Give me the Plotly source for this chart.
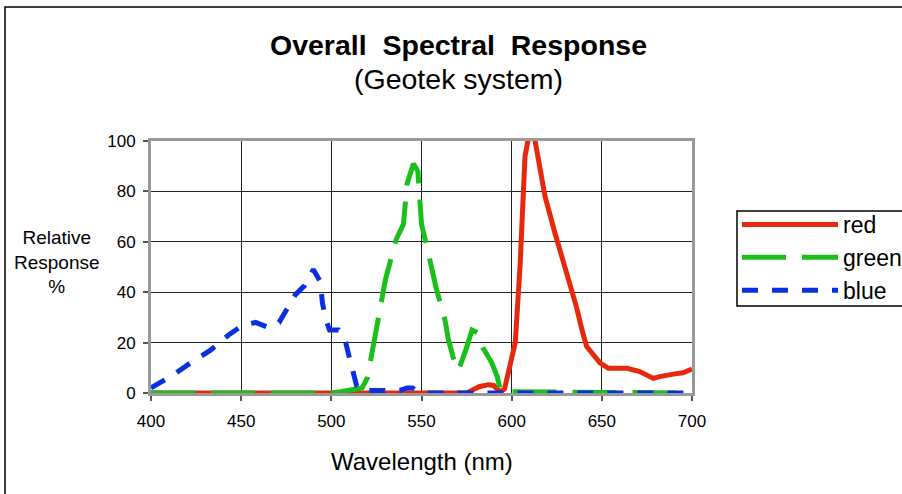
import plotly.graph_objects as go

# ---- data ----
red_x = [400, 575, 582, 587, 590, 593.5, 596, 599, 602, 604.7, 606.5, 607.4, 609, 611, 613, 615,
         618.5, 624, 629.6, 636, 639, 641.6, 649, 653.6, 664, 671, 678.6, 682, 689.7, 695, 700]
red_y = [0, 0, 2.5, 3.3, 3, 0.5, 1.5, 11, 20, 51, 82, 94, 100, 103, 100, 91,
         78, 63.5, 50, 34, 25, 18.4, 12, 9.8, 9.8, 8.5, 5.8, 6.5, 7.5, 8, 9.5]

green_x = [400, 500, 505, 512, 517, 520, 523, 525, 530, 536, 540, 542, 545.5, 548, 549, 550,
           553, 558, 563, 565, 568, 570.5, 575, 578, 581, 584, 589, 592, 594, 700]
green_y = [0, 0, 0.5, 1.5, 2, 6, 18, 25, 45, 61, 67, 83, 91, 88, 75, 67,
           58, 42, 29, 21, 13, 9, 18, 25, 24, 18, 12, 6.5, 0.5, 0]

blue_x = [400, 412, 422, 433, 443, 451, 458, 465, 471, 474, 480, 485, 490, 494, 495, 497,
          499, 504, 508, 510, 512, 514, 516, 520, 530, 538, 542, 545, 548, 550, 700]
blue_y = [2, 7, 12, 17, 23, 27, 28, 26, 28, 32, 39, 42.5, 49, 44, 36, 29,
          25, 25, 20, 14, 9, 3, 1, 1, 1, 1, 2, 2, 0.5, 0, 0]

series_names = ["red", "green", "blue"]
x_ticks = [400, 450, 500, 550, 600, 650, 700]
y_ticks = [0, 20, 40, 60, 80, 100]

# ---- layout geometry (pixels) ----
W, H = 902, 494
L, R, T, B = 151, 692, 141, 393
pw, ph = R - L, B - T

def px(xp):
    return (xp - L) / pw

def py(yp):
    return (B - yp) / ph

FONT = "Liberation Sans, Arial, sans-serif"
NB = "\u00a0"

fig = go.Figure()
fig.add_trace(go.Scatter(x=red_x, y=red_y, mode="lines", name=series_names[0],
                         line=dict(color="#e8280c", width=5), legendgroup="r"))
fig.add_trace(go.Scatter(x=green_x, y=green_y, mode="lines", name=series_names[1] + NB * 4,
                         line=dict(color="#19c019", width=5, dash="44px,16px"), legendgroup="g"))
fig.add_trace(go.Scatter(x=blue_x, y=blue_y, mode="lines", name=series_names[2],
                         line=dict(color="#0a2fe0", width=5, dash="16px,14px"), legendgroup="b"))

fig.update_layout(
    width=W, height=H,
    margin=dict(l=L, r=W - R, t=T, b=H - B, autoexpand=False),
    paper_bgcolor="white", plot_bgcolor="white",
    font=dict(family=FONT, color="black", size=17),
    showlegend=True,
    legend=dict(x=px(737), y=py(203), xanchor="left", yanchor="top",
                borderwidth=0, bgcolor="rgba(0,0,0,0)",
                font=dict(size=23, family=FONT), itemwidth=96,
                tracegroupgap=0, traceorder="normal"),
    xaxis=dict(range=[400, 700], tickvals=x_ticks, showgrid=True, gridcolor="#222", gridwidth=1.3,
               showline=True, linecolor="#999", linewidth=3, mirror=True,
               ticks="outside", ticklen=5, tickcolor="#555", tickwidth=1.5,
               zeroline=False, tickfont=dict(size=17), ticklabelstandoff=6),
    yaxis=dict(range=[0, 100], tickvals=y_ticks, showgrid=True, gridcolor="#222", gridwidth=1.3,
               showline=True, linecolor="#999", linewidth=3, mirror=True,
               ticks="outside", ticklen=5, tickcolor="#555", tickwidth=1.5,
               zeroline=False, tickfont=dict(size=17), ticklabelstandoff=4),
    annotations=[
        dict(text="<b>Overall" + NB * 2 + "Spectral" + NB * 2 + "Response</b>", x=px(458), y=py(45),
             xref="paper", yref="paper", showarrow=False, xanchor="center", yanchor="middle",
             font=dict(size=28.5, family=FONT)),
        dict(text="(Geotek system)", x=px(458), y=py(79),
             xref="paper", yref="paper", showarrow=False, xanchor="center", yanchor="middle",
             font=dict(size=28.5, family=FONT)),
        dict(text="Wavelength (nm)", x=px(422), y=py(461),
             xref="paper", yref="paper", showarrow=False, xanchor="center", yanchor="middle",
             font=dict(size=24, family=FONT)),
        dict(text="Relative<br>Response<br>%", x=px(57), y=py(262),
             xref="paper", yref="paper", showarrow=False, xanchor="center", yanchor="middle",
             align="center", font=dict(size=19, family=FONT)),
    ],
    shapes=[
        dict(type="rect", xref="paper", yref="paper",
             x0=px(5), x1=px(915), y0=py(510), y1=py(7),
             line=dict(color="black", width=1.5), fillcolor="rgba(0,0,0,0)", layer="below"),
        dict(type="rect", xref="paper", yref="paper",
             x0=px(737), x1=px(915), y0=py(306), y1=py(211),
             line=dict(color="black", width=1.5), fillcolor="white", layer="below"),
    ],
)

fig.write_html("out.html")
